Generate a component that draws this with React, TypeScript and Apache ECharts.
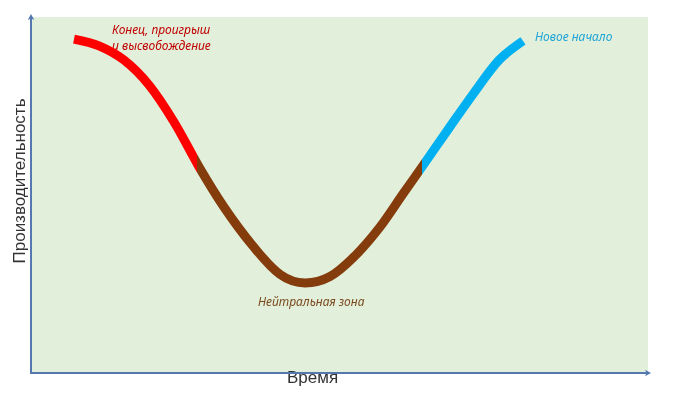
import React, { useEffect, useRef } from "react";
import * as echarts from "echarts";

// Curve points (time, productivity)
const curveX = [6.97, 11.02, 15.07, 19.12, 23.18, 27.23, 31.28, 35.82, 40.36, 44.41, 48.46, 52.51, 56.56, 60.29, 63.7, 67.75, 71.8, 75.85, 79.74];
const curveY = [93.8, 91.9, 87.9, 80.9, 70.5, 57.9, 46.6, 36.0, 27.7, 25.3, 27.1, 32.9, 41.0, 50.3, 58.7, 68.8, 78.7, 87.9, 93.3];
// Phase boundaries along the time axis
const phaseBreaks = [26.9, 63.4];
const phaseColors = ["#FF0000", "#843C0C", "#00B0F0"];

const xAxisTitle = "Время";
const yAxisTitle = "Производительность";
const labelEnd = ["Конец, проигрыш", "и высвобождение"];
const labelNeutral = "Нейтральная зона";
const labelNew = "Новое начало";

export default function App() {
  const ref = useRef<HTMLDivElement>(null);
  useEffect(() => {
    if (!ref.current) return;
    const chart = echarts.init(ref.current, undefined, { renderer: "svg" });
    const axisColor = "#5479B0";
    const data = curveX.map((x, i) => [x, curveY[i]]);
    const italic = (text: string, x: number, y: number, color: string) => ({
      type: "text",
      left: x,
      top: y,
      style: {
        text,
        fill: color,
        font: "italic 12px 'Noto Sans'",
      },
    });
    const axisCommon = {
      type: "value",
      min: 0,
      max: 100,
      axisLine: {
        show: true,
        lineStyle: { color: axisColor, width: 2 },
        symbol: ["none", "arrow"],
        symbolSize: [5, 6],
        symbolOffset: [0, 3],
      },
      axisTick: { show: false },
      axisLabel: { show: false },
      splitLine: { show: false },
    };
    chart.setOption({
      animation: false,
      grid: {
        left: 31,
        right: 52,
        top: 17,
        bottom: 21,
        show: true,
        backgroundColor: "#E2EFDA",
        borderWidth: 0,
      },
      xAxis: axisCommon,
      yAxis: axisCommon,
      visualMap: {
        type: "piecewise",
        show: false,
        dimension: 0,
        pieces: [
          { lt: phaseBreaks[0], color: phaseColors[0] },
          { gte: phaseBreaks[0], lt: phaseBreaks[1], color: phaseColors[1] },
          { gte: phaseBreaks[1], color: phaseColors[2] },
        ],
      },
      series: [
        {
          type: "line",
          data,
          smooth: 0.33,
          symbol: "none",
          lineStyle: { width: 9, cap: "butt", join: "round" },
          z: 3,
        },
      ],
      graphic: [
        italic(labelEnd[0], 112, 23, "#C00000"),
        italic(labelEnd[1], 112, 39, "#C00000"),
        italic(labelNew, 535, 30, "#1FA5D6"),
        italic(labelNeutral, 258, 295, "#7A4A1E"),
        {
          type: "text",
          left: 287,
          top: 369,
          style: { text: xAxisTitle, fill: "#333333", font: "17px 'Liberation Sans'" },
        },
        {
          type: "text",
          x: 19,
          y: 181,
          rotation: Math.PI / 2,
          style: {
            text: yAxisTitle,
            fill: "#333333",
            font: "17px 'Liberation Sans'",
            align: "center",
            verticalAlign: "middle",
          },
        },
      ],
    });
    return () => chart.dispose();
  }, []);
  return (
    <div
      ref={ref}
      style={{ position: "fixed", left: 0, top: 0, width: 700, height: 394 }}
    />
  );
}
